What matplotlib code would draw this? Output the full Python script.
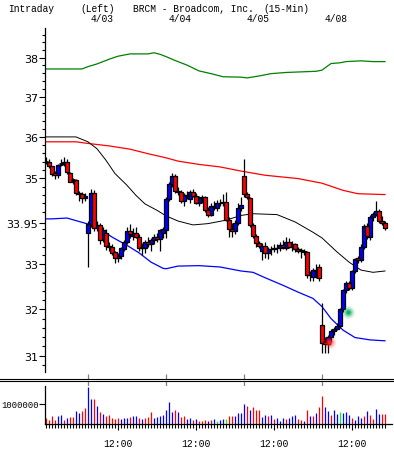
import matplotlib
matplotlib.use('Agg')
import matplotlib.pyplot as plt
import matplotlib.font_manager as fm
from matplotlib.lines import Line2D
from matplotlib.transforms import blended_transform_factory
from matplotlib.ticker import NullFormatter
import numpy as np

# 15 minute bars, BRCM, 4/02 (partial) .. 4/08
opens = [35.40, 35.40, 35.28, 35.12, 35.08, 35.33, 35.33, 35.40, 35.12, 34.95, 34.95, 34.65, 34.62, 34.53,
         33.72, 33.92, 34.65, 33.83, 33.90, 33.58, 33.72, 33.42, 33.40, 33.28, 33.15, 33.18, 33.35, 33.50,
         33.75, 33.65, 33.72, 33.62, 33.40, 33.36, 33.50, 33.45, 33.55, 33.62, 33.58, 33.72,
         33.78, 34.50, 34.85, 35.05, 34.70, 34.68, 34.45, 34.60, 34.50, 34.66, 34.58, 34.42, 34.52,
         34.55, 34.25, 34.14, 34.34, 34.30, 34.42, 34.40, 34.44, 34.02, 33.80, 33.76, 33.95, 34.30,
         35.05, 34.62, 34.52, 33.90, 33.65, 33.48, 33.30, 33.42, 33.25, 33.35, 33.34, 33.38, 33.36,
         33.44, 33.38, 33.50, 33.40, 33.45, 33.34, 33.32, 33.30, 33.28, 32.75, 32.72, 32.88, 32.95,
         31.65, 31.30, 31.25, 31.40, 31.52, 31.58, 31.64, 32.00, 32.42, 32.58, 32.48, 32.84, 33.14,
         33.10, 33.40, 33.88, 33.62, 34.08, 34.15, 34.22, 34.00, 33.95]
highs = [35.50, 35.45, 35.30, 35.18, 35.35, 35.45, 35.50, 35.45, 35.15, 35.00, 34.98, 34.70, 34.68, 34.65,
         33.98, 34.75, 34.72, 33.98, 33.95, 33.85, 33.80, 33.50, 33.45, 33.30, 33.25, 33.40, 33.55, 33.85,
         33.92, 33.82, 33.85, 33.70, 33.48, 33.55, 33.62, 33.60, 33.68, 33.72, 33.80, 33.85,
         34.55, 34.92, 35.12, 35.10, 34.80, 34.72, 34.65, 34.70, 34.72, 34.75, 34.65, 34.58, 34.60,
         34.58, 34.32, 34.40, 34.45, 34.48, 34.50, 34.62, 34.68, 34.08, 33.95, 34.02, 34.40, 34.55,
         35.45, 34.68, 34.55, 33.95, 33.70, 33.52, 33.48, 33.50, 33.40, 33.42, 33.45, 33.46, 33.50,
         33.55, 33.62, 33.60, 33.52, 33.48, 33.40, 33.38, 33.35, 33.30, 32.85, 32.92, 33.00, 33.00,
         32.15, 31.40, 31.45, 31.58, 31.62, 31.70, 32.02, 32.45, 32.62, 32.62, 32.88, 33.15, 33.18,
         33.45, 33.92, 33.95, 34.12, 34.20, 34.45, 34.28, 34.10, 34.00]
lows = [35.33, 35.25, 35.05, 34.98, 35.00, 35.30, 35.28, 35.10, 34.90, 34.85, 34.60, 34.45, 34.42, 34.45,
        32.95, 33.85, 33.75, 33.75, 33.45, 33.50, 33.32, 33.30, 33.20, 33.02, 33.05, 33.12, 33.30, 33.45,
        33.60, 33.55, 33.60, 33.30, 33.22, 33.25, 33.40, 33.30, 33.45, 33.50, 33.30, 33.60,
        33.60, 34.45, 34.80, 34.65, 34.60, 34.40, 34.35, 34.50, 34.42, 34.55, 34.38, 34.35, 34.40,
        34.20, 34.08, 34.10, 34.25, 34.22, 34.35, 34.35, 33.98, 33.62, 33.62, 33.70, 33.90, 34.22,
        34.55, 34.50, 33.85, 33.60, 33.40, 33.38, 33.10, 33.15, 33.12, 33.20, 33.28, 33.25, 33.30,
        33.35, 33.32, 33.36, 33.30, 33.28, 33.25, 33.15, 33.20, 32.70, 32.62, 32.62, 32.70, 32.62,
        31.07, 31.05, 31.05, 31.30, 31.45, 31.55, 31.60, 31.95, 32.35, 32.42, 32.42, 32.80, 33.02,
        33.05, 33.35, 33.58, 33.55, 34.00, 34.10, 33.95, 33.90, 33.78]
closes = [35.40, 35.28, 35.10, 35.08, 35.32, 35.33, 35.40, 35.14, 34.92, 34.95, 34.65, 34.62, 34.53, 34.58,
          33.92, 34.65, 33.83, 33.90, 33.55, 33.78, 33.42, 33.40, 33.25, 33.15, 33.18, 33.37, 33.50, 33.75,
          33.68, 33.72, 33.62, 33.38, 33.36, 33.50, 33.45, 33.55, 33.62, 33.58, 33.78, 33.80,
          34.50, 34.85, 35.05, 34.70, 34.68, 34.45, 34.60, 34.58, 34.66, 34.58, 34.42, 34.52, 34.55,
          34.25, 34.14, 34.34, 34.32, 34.42, 34.40, 34.44, 34.02, 33.80, 33.76, 33.95, 34.30, 34.36,
          34.62, 34.56, 33.90, 33.65, 33.48, 33.42, 33.42, 33.25, 33.35, 33.34, 33.38, 33.36, 33.44,
          33.40, 33.50, 33.40, 33.45, 33.34, 33.30, 33.30, 33.28, 32.75, 32.78, 32.88, 32.85, 32.70,
          31.28, 31.25, 31.40, 31.52, 31.58, 31.64, 32.00, 32.42, 32.58, 32.48, 32.84, 33.12, 33.10,
          33.40, 33.88, 33.64, 34.08, 34.15, 34.22, 34.00, 33.95, 33.83]

volume_k = [300, 200, 380, 220, 400, 450, 220, 320, 350, 350, 650, 550, 670, 800,
            1870, 1250, 1250, 900, 620, 500, 420, 450, 320, 270, 320, 270, 300, 300, 370, 400,
            400, 300, 270, 320, 370, 580, 300, 350, 380, 450,
            700, 1080, 580, 700, 580, 330, 380, 230, 300, 200, 250, 150, 150, 200, 150, 200,
            250, 150, 200, 250, 250, 380, 420, 380, 550, 530,
            1000, 900, 720, 850, 700, 720, 350, 450, 400, 450, 270, 320, 150, 300, 250, 320,
            380, 470, 230, 180, 150, 700, 400, 400, 570, 850,
            1400, 850, 650, 450, 700, 500, 600, 550, 600, 450, 300, 200, 400, 320, 400, 650,
            470, 250, 750, 500, 500, 500]
volume_dir = list('rrrrbbrbrrbbrr'
                  'bbrbrbrrrrrbbbrbbrbrrrbbbb'
                  'bbbrbrrbbrbrrrbrbgbbgrrbbb'
                  'brbrrrbbrbrbbbrbbbrrbrbrbr'
                  'rbbrbbgbbbrbbbrbrrbbrr')

# moving averages / bands, sampled at bar numbers
green_x = [0, 12, 14, 17, 21, 24, 28, 34, 36, 38, 40, 43, 47, 51, 55, 59, 65, 67, 71, 75, 80, 90, 92, 95, 98, 100, 105, 109, 113]
green_y = [37.71, 37.71, 37.77, 37.84, 37.96, 38.04, 38.10, 38.10, 38.13, 38.09, 38.03, 37.93, 37.81, 37.66, 37.59,
           37.51, 37.50, 37.48, 37.53, 37.59, 37.62, 37.65, 37.68, 37.85, 37.87, 37.90, 37.92, 37.90, 37.90]
red_x = [0, 10, 14, 21, 28, 34, 40, 44, 51, 58, 65, 73, 84, 92, 99, 104, 113]
red_y = [35.88, 35.88, 35.84, 35.78, 35.70, 35.59, 35.49, 35.41, 35.33, 35.27, 35.17, 35.07, 34.99, 34.88, 34.71, 34.63, 34.61]
black_x = [0, 10, 14, 17, 20, 23, 27, 30, 33, 37, 40, 44, 49, 54, 60, 65, 69, 77, 83, 89, 92, 97, 101, 105, 109, 113]
black_y = [36.00, 36.00, 35.88, 35.71, 35.43, 35.11, 34.83, 34.59, 34.39, 34.24, 34.11, 33.99, 33.90, 33.93, 34.01,
           34.12, 34.16, 34.14, 33.97, 33.73, 33.60, 33.28, 33.05, 32.87, 32.82, 32.85]
blue_x = [0, 2, 7, 11, 14, 18, 22, 27, 31, 35, 39, 40, 44, 51, 58, 65, 69, 73, 79, 84, 89, 92, 95, 99, 103, 108, 113]
blue_y = [34.04, 34.04, 34.06, 33.98, 33.92, 33.81, 33.62, 33.43, 33.26, 33.05, 32.91, 32.90, 32.96, 32.97, 32.94,
          32.85, 32.82, 32.70, 32.53, 32.38, 32.24, 32.06, 31.80, 31.55, 31.39, 31.34, 31.32]

# signal markers
signal_x = [94.3, 100.7]
signal_y = [31.29, 31.94]
signal_col = ['#ff2020', '#10b060']

day_start = [14, 40, 66, 92]
day_labels = ['4/03', '4/04', '4/05', '4/08']
noon_bars = [24, 50, 76, 102]
price_ticks = [31, 32, 33, 33.95, 35, 36, 37, 38]
price_labels = ['31', '32', '33', '33.95', '35', '36', '37', '38']

names = {f.name for f in fm.fontManager.ttflist}
narrow = 'Liberation Sans Narrow' if 'Liberation Sans Narrow' in names else 'DejaVu Sans'
mono = 'Liberation Mono' if 'Liberation Mono' in names else 'DejaVu Sans Mono'

W, H = 394, 452
fig = plt.figure(figsize=(W / 100, H / 100), dpi=100)


def box(x0, y0, x1, y1):
    return fig.add_axes([x0 / W, 1 - y1 / H, (x1 - x0) / W, (y1 - y0) / H])


ax = box(45, 29, 392, 373)
axv = box(45, 387, 392, 425)

o = np.array(opens); h = np.array(highs); l = np.array(lows); c = np.array(closes)
x = np.arange(len(c))

# lines
ax.plot(green_x, green_y, color='#008000', lw=0.9, zorder=1)
ax.plot(red_x, red_y, color='#ff0000', lw=0.9, zorder=1)
ax.plot(black_x, black_y, color='black', lw=0.7, zorder=1)
ax.plot(blue_x, blue_y, color='#0000ff', lw=0.9, zorder=1)

# candles
ax.vlines(x, l, h, color='black', lw=0.9, zorder=2)
up = c > o
dn = c < o
fl = c == o
bw = 1.3
ax.bar(x[up], (c - o)[up], bottom=o[up], width=bw, color='#0000ff', edgecolor='black', lw=0.9, zorder=3)
ax.bar(x[dn], (o - c)[dn], bottom=c[dn], width=bw, color='#ff0000', edgecolor='black', lw=0.9, zorder=3)
ax.hlines(c[fl], x[fl] - bw / 2, x[fl] + bw / 2, color='black', lw=2, zorder=3)

for sx, sy, sc in zip(signal_x, signal_y, signal_col):
    for s, a in [(90, 0.12), (50, 0.25), (22, 0.5), (8, 0.9)]:
        ax.scatter([sx], [sy], s=s, color=sc, alpha=a, lw=0, zorder=4)

ax.set_yscale('log')
ax.set_ylim(30.66, 38.78)
ax.set_xlim(-0.33, 115.33)
ax.set_yticks(price_ticks, labels=price_labels)
minor = [round(v, 1) for v in np.arange(30.8, 38.7, 0.2) if min(abs(v - t) for t in price_ticks) > 0.06]
ax.set_yticks(minor, minor=True)
ax.yaxis.set_minor_formatter(NullFormatter())
ax.tick_params(axis='y', which='major', direction='out', length=4, width=0.8, pad=1, labelsize=8)
ax.tick_params(axis='y', which='minor', direction='out', length=2.5, width=0.8)
for t in ax.get_yticklabels():
    t.set_fontfamily(narrow)
ax.set_xticks([])
for s in ['top', 'right', 'bottom']:
    ax.spines[s].set_visible(False)
ax.spines['left'].set_linewidth(0.9)

# volume
vcol = {'r': '#ff0000', 'b': '#0000ff', 'g': '#00ff00'}
axv.vlines(x, 0, np.array(volume_k) * 1000, colors=[vcol[d] for d in volume_dir], lw=0.9)
axv.set_xlim(-0.33, 115.33)
axv.set_ylim(0, 1.9e6)
axv.set_yticks([1e6], labels=['1000000'])
axv.set_xticks(noon_bars, labels=['12:00'] * len(noon_bars))
axv.set_xticks(x, minor=True)
axv.tick_params(axis='y', direction='out', length=4, width=0.8, pad=0.5, labelsize=6.4)
axv.tick_params(axis='x', which='major', direction='out', length=4, width=0.8, pad=6, labelsize=7)
axv.tick_params(axis='x', which='minor', direction='out', length=3, width=0.8)
for t in axv.get_yticklabels() + axv.get_xticklabels():
    t.set_fontfamily(mono)
for s in ['top', 'right']:
    axv.spines[s].set_visible(False)
axv.spines['left'].set_linewidth(0.9)
axv.spines['bottom'].set_linewidth(0.9)

# day separators across both panels
tr = blended_transform_factory(ax.transData, fig.transFigure)
for d, lab in zip(day_start, day_labels):
    fig.add_artist(Line2D([d, d], [1 - 30 / H, 1 - 425 / H], transform=tr, color='#808080',
                          lw=0.9, ls=(0, (4, 2)), zorder=0))
    fig.text(d + 1, 1 - 19 / H, lab, transform=tr, fontsize=6.9, family=mono, va='center', ha='left')

# double line between panels
for yy in [380, 382]:
    fig.add_artist(Line2D([0, 1], [1 - yy / H] * 2, color='black', lw=0.8))

fig.text(8 / W, 1 - 9 / H, 'Intraday', fontsize=6.9, family=mono, va='center')
fig.text(80 / W, 1 - 9 / H, '(Left)', fontsize=6.9, family=mono, va='center')
fig.text(133 / W, 1 - 9 / H, 'BRCM - Broadcom, Inc.', fontsize=6.9, family=mono, va='center')
fig.text(263 / W, 1 - 9 / H, '(15-Min)', fontsize=6.9, family=mono, va='center')

fig.savefig('out.png', dpi=100)
